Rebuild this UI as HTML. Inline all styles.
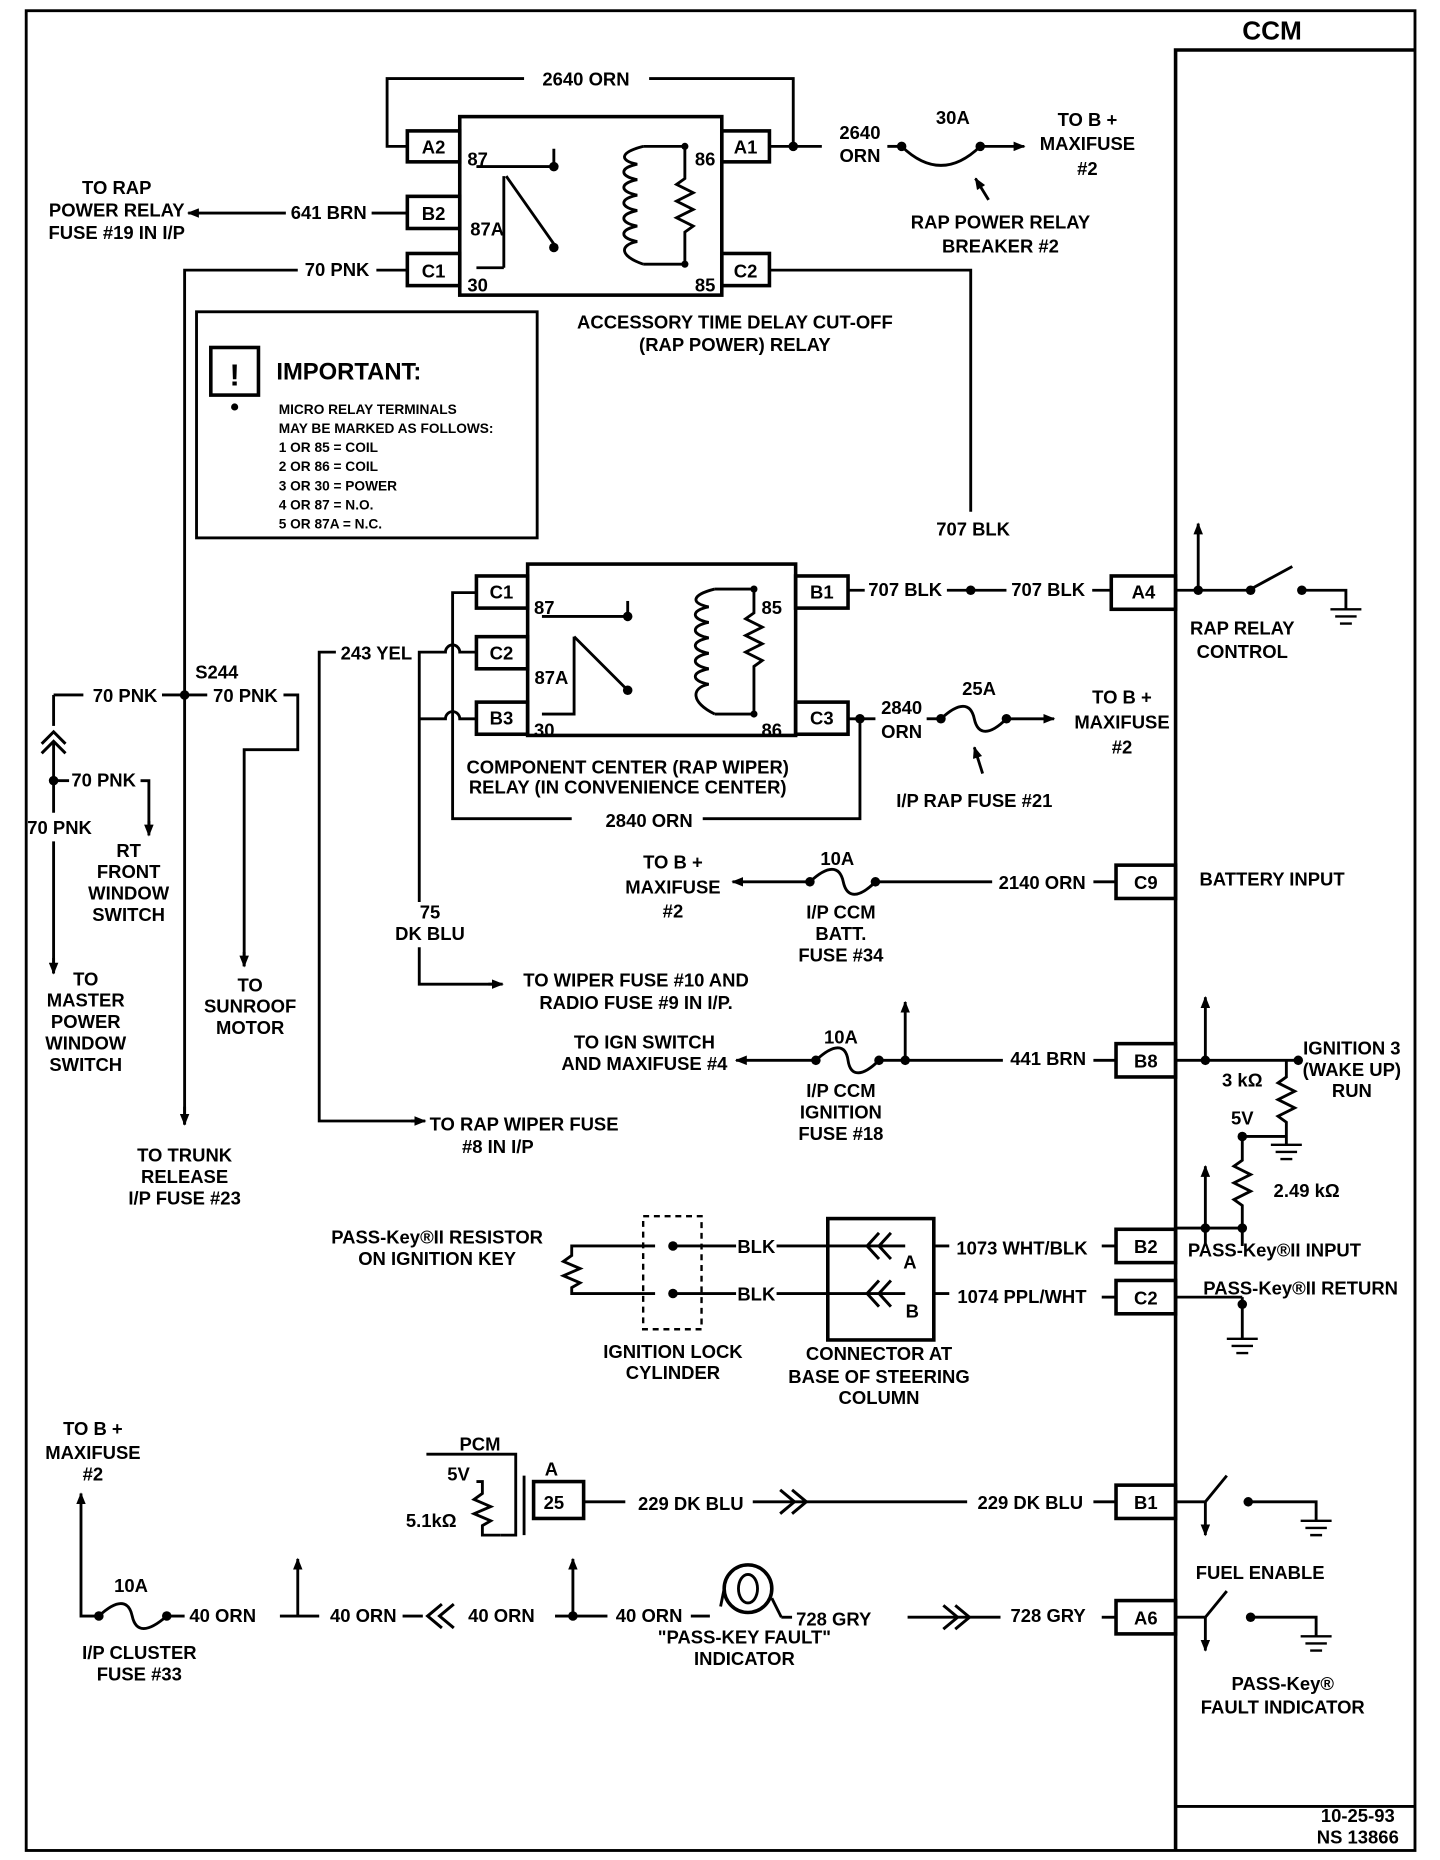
<!DOCTYPE html>
<html><head><meta charset="utf-8"><style>
html,body{margin:0;padding:0;background:#fff;}
svg{display:block;}
text{font-family:"Liberation Sans",sans-serif;font-weight:bold;font-size:15.5px;fill:#000;text-anchor:middle;}
.s{font-size:11.5px;text-anchor:start;}
.l{text-anchor:start;}
</style></head><body>
<svg width="1440" height="1860" viewBox="0 0 1209 1563" preserveAspectRatio="none" xmlns="http://www.w3.org/2000/svg">
<defs><marker id="a" markerWidth="10" markerHeight="8" refX="9" refY="4" orient="auto" markerUnits="userSpaceOnUse"><path d="M0,0L10,4L0,8z" fill="#000"/></marker></defs>
<g fill="none" stroke="#000" stroke-width="2.4">
<rect x="22" y="9" width="1166" height="1546"/>
<polyline points="987,1555 987,42 1188,42" stroke-width="3"/>
<line x1="987" y1="1518" x2="1188" y2="1518"/>
<rect x="386" y="98" width="220" height="150" stroke-width="3"/>
<rect x="342" y="110" width="44" height="26" stroke-width="3"/><rect x="342" y="165" width="44" height="27" stroke-width="3"/><rect x="342" y="213" width="44" height="27" stroke-width="3"/>
<rect x="606" y="110" width="40" height="26" stroke-width="3"/><rect x="606" y="213" width="40" height="27" stroke-width="3"/>
<polyline points="342,123 325,123 325,66 440,66"/><polyline points="545,66 666,66 666,123 646,123"/>
<line x1="666" y1="123" x2="690" y2="123"/>
<line x1="745" y1="123" x2="757" y2="123"/>
<path d="M757,123 Q790,155 823,123"/><line x1="823" y1="123" x2="860" y2="123" marker-end="url(#a)"/>
<line x1="830" y1="168" x2="819" y2="150" marker-end="url(#a)"/>
<line x1="342" y1="179" x2="312" y2="179"/><line x1="240" y1="179" x2="158" y2="179" marker-end="url(#a)"/>
<line x1="342" y1="227" x2="316" y2="227"/><polyline points="250,227 155,227 155,945" /><line x1="155" y1="930" x2="155" y2="945" marker-end="url(#a)"/>
<polyline points="646,227 815,227 815,430"/>
<line x1="400" y1="140" x2="465" y2="140"/><line x1="465" y1="140" x2="465" y2="125"/>
<line x1="425" y1="148" x2="465" y2="205"/><line x1="400" y1="225" x2="423" y2="225"/><line x1="423" y1="225" x2="423" y2="148"/>
<path d="M575,125 L575,150 L568,155 L582,162 L568,169 L582,176 L568,183 L582,190 L575,195 L575,220"/>
<path d="M540,123 L575,123 M540,222 L575,222"/>
<path d="M540,123 C520,128 520,135 535,138 C520,141 520,148 535,151 C520,154 520,161 535,164 C520,167 520,174 535,177 C520,180 520,187 535,190 C520,193 520,200 535,203 C520,206 520,215 540,222"/>
<rect x="165" y="262" width="286" height="190"/>
<rect x="177" y="292" width="40" height="40" stroke-width="3"/>
<rect x="443" y="474" width="225" height="144" stroke-width="3"/>
<rect x="400" y="484" width="43" height="27" stroke-width="3"/><rect x="400" y="535" width="43" height="27" stroke-width="3"/><rect x="400" y="590" width="43" height="27" stroke-width="3"/>
<rect x="668" y="484" width="44" height="27" stroke-width="3"/><rect x="668" y="590" width="44" height="27" stroke-width="3"/>
<line x1="455" y1="518" x2="527" y2="518"/><line x1="527" y1="518" x2="527" y2="505"/>
<line x1="482" y1="535" x2="527" y2="580"/><polyline points="455,600 482,600 482,535"/>
<path d="M633,495 L633,515 L626,520 L640,527 L626,534 L640,541 L626,548 L640,555 L633,560 L633,600"/>
<path d="M600,495 L633,495 M600,600 L633,600"/>
<path d="M600,495 C580,500 580,507 595,510 C580,513 580,520 595,523 C580,526 580,533 595,536 C580,539 580,546 595,549 C580,552 580,559 595,562 C580,565 580,572 595,575 C580,578 580,590 600,600"/>
<polyline points="400,498 380,498 380,688 480,688"/><polyline points="590,688 722,688 722,604 712,604"/>
<path d="M400,548 L386,548 A6,6 0 0 0 374,548 L352,548 L352,758"/>
<polyline points="352,796 352,827 420,827"/><line x1="410" y1="827" x2="422" y2="827" marker-end="url(#a)"/>
<path d="M400,604 L386,604 A6,6 0 0 0 374,604 L352,604"/>
<polyline points="282,548 268,548 268,942 355,942"/><line x1="345" y1="942" x2="357" y2="942" marker-end="url(#a)"/>
<line x1="722" y1="604" x2="735" y2="604"/><line x1="778" y1="604" x2="790" y2="604"/>
<path d="M790,604 C805,590 815,590 818,604 C821,618 831,618 845,604"/><line x1="845" y1="604" x2="885" y2="604" marker-end="url(#a)"/>
<line x1="825" y1="650" x2="818" y2="628" marker-end="url(#a)"/>
<line x1="712" y1="496" x2="726" y2="496"/><line x1="795" y1="496" x2="845" y2="496"/><line x1="917" y1="496" x2="933" y2="496"/>
<rect x="933" y="484" width="54" height="28" stroke-width="3"/>
<line x1="987" y1="496" x2="1050" y2="496"/><line x1="1006" y1="496" x2="1006" y2="440" marker-end="url(#a)"/>
<line x1="1052" y1="494" x2="1085" y2="476"/><polyline points="1093,496 1130,496 1130,512"/>
<rect x="937" y="727" width="50" height="28" stroke-width="3"/>
<line x1="937" y1="741" x2="918" y2="741"/><line x1="833" y1="741" x2="735" y2="741"/>
<path d="M680,741 C695,727 705,727 708,741 C711,755 721,755 735,741"/><line x1="680" y1="741" x2="615" y2="741" marker-end="url(#a)"/>
<rect x="937" y="877" width="50" height="28" stroke-width="3"/>
<line x1="937" y1="891" x2="918" y2="891"/><line x1="842" y1="891" x2="738" y2="891"/>
<line x1="760" y1="891" x2="760" y2="842" marker-end="url(#a)"/>
<path d="M685,891 C700,877 710,877 712,891 C714,905 724,905 738,891"/><line x1="685" y1="891" x2="618" y2="891" marker-end="url(#a)"/>
<line x1="987" y1="891" x2="1090" y2="891"/><line x1="1012" y1="891" x2="1012" y2="838" marker-end="url(#a)"/>
<path d="M1080,891 L1080,905 L1073,910 L1087,917 L1073,924 L1087,931 L1073,938 L1080,943 L1080,962"/>
<line x1="1043" y1="955" x2="1080" y2="955"/>
<path d="M1043,955 L1043,975 L1036,980 L1050,987 L1036,994 L1050,1001 L1036,1008 L1043,1013 L1043,1047"/>
<line x1="1012" y1="1047" x2="1012" y2="980" marker-end="url(#a)"/>
<rect x="937" y="1033" width="50" height="28" stroke-width="3"/><rect x="937" y="1076" width="50" height="28" stroke-width="3"/>
<line x1="987" y1="1032" x2="1043" y2="1032"/>
<line x1="987" y1="1090" x2="1043" y2="1090"/><line x1="1043" y1="1090" x2="1043" y2="1125"/>
<line x1="937" y1="1047" x2="925" y2="1047"/><line x1="937" y1="1090" x2="925" y2="1090"/>
<line x1="784" y1="1047" x2="797" y2="1047"/><line x1="784" y1="1087" x2="797" y2="1087"/>
<rect x="695" y="1024" width="89" height="102" stroke-width="3"/>
<path d="M738,1036 L728,1047 L738,1058 M748,1036 L738,1047 L748,1058 M738,1076 L728,1087 L738,1098 M748,1076 L738,1087 L748,1098" stroke-width="2.5"/>
<line x1="565" y1="1047" x2="618" y2="1047"/><line x1="652" y1="1047" x2="760" y2="1047"/>
<line x1="565" y1="1087" x2="618" y2="1087"/><line x1="652" y1="1087" x2="760" y2="1087"/>
<rect x="540" y="1022" width="49" height="95" stroke-dasharray="5,4" stroke-width="2"/>
<polyline points="550,1047 480,1047 480,1055 473,1060 487,1066 473,1072 487,1078 480,1082 480,1087 550,1087"/>
<polyline points="358,1222 433,1222 433,1290 420,1290"/>
<rect x="448" y="1245" width="42" height="31" stroke-width="3"/>
<polyline points="440,1240 440,1290"/>
<polyline points="400,1245 405,1245 405,1255 398,1260 412,1266 398,1272 412,1278 405,1282 405,1290 420,1290"/>
<line x1="490" y1="1262" x2="525" y2="1262"/><line x1="632" y1="1262" x2="812" y2="1262"/>
<path d="M655,1252 L667,1262 L655,1272 M665,1252 L677,1262 L665,1272" stroke-width="2.5"/>
<line x1="918" y1="1262" x2="937" y2="1262"/>
<rect x="937" y="1248" width="50" height="28" stroke-width="3"/>
<line x1="987" y1="1262" x2="1012" y2="1262"/><line x1="1012" y1="1262" x2="1030" y2="1240"/>
<line x1="1012" y1="1262" x2="1012" y2="1290" marker-end="url(#a)"/>
<polyline points="1048,1262 1105,1262 1105,1278"/>
<rect x="937" y="1345" width="50" height="28" stroke-width="3"/>
<line x1="987" y1="1359" x2="1012" y2="1359"/><line x1="1012" y1="1359" x2="1030" y2="1337"/>
<line x1="1012" y1="1359" x2="1012" y2="1387" marker-end="url(#a)"/>
<polyline points="1050,1359 1105,1359 1105,1375"/>
<line x1="937" y1="1359" x2="925" y2="1359"/><line x1="840" y1="1359" x2="762" y2="1359"/>
<path d="M792,1349 L804,1359 L792,1369 M802,1349 L814,1359 L802,1369" stroke-width="2.5"/>
<line x1="665" y1="1359" x2="656" y2="1359"/><line x1="648" y1="1343" x2="656" y2="1359"/>
<circle cx="628" cy="1335" r="20" stroke-width="3"/><ellipse cx="628" cy="1335" rx="8" ry="12"/>
<line x1="608" y1="1335" x2="605" y2="1350"/>
<line x1="580" y1="1358" x2="596" y2="1358"/>
<line x1="466" y1="1358" x2="510" y2="1358"/><line x1="481" y1="1358" x2="481" y2="1310" marker-end="url(#a)"/>
<path d="M381,1348 L369,1358 L381,1368 M371,1348 L359,1358 L371,1368" stroke-width="2.5"/>
<line x1="338" y1="1358" x2="355" y2="1358"/><line x1="235" y1="1358" x2="268" y2="1358"/>
<line x1="250" y1="1358" x2="250" y2="1310" marker-end="url(#a)"/>
<line x1="140" y1="1358" x2="155" y2="1358"/>
<path d="M83,1358 C98,1344 108,1344 111,1358 C114,1372 124,1372 140,1358"/>
<polyline points="83,1358 68,1358 68,1255" marker-end="url(#a)"/>
<line x1="45" y1="584" x2="70" y2="584"/><line x1="136" y1="584" x2="174" y2="584"/><polyline points="238,584 250,584 250,630 205,630 205,812" /><line x1="205" y1="800" x2="205" y2="812" marker-end="url(#a)"/>
<line x1="45" y1="584" x2="45" y2="610"/>
<path d="M35,625 L45,615 L55,625 M35,633 L45,623 L55,633" stroke-width="2.5"/>
<line x1="45" y1="624" x2="45" y2="683"/><line x1="45" y1="707" x2="45" y2="818"/><line x1="45" y1="805" x2="45" y2="818" marker-end="url(#a)"/>
<polyline points="118,656 125,656 125,700"/><line x1="125" y1="690" x2="125" y2="702" marker-end="url(#a)"/>
<line x1="45" y1="656" x2="58" y2="656"/>
</g>
<g stroke="#000" stroke-width="2">
<path d="M1117,512H1143M1121,518H1139M1125,524H1135"/>
<path d="M1067,962H1093M1071,968H1089M1075,974H1085"/>
<path d="M1030,1125H1056M1034,1131H1052M1038,1137H1048"/>
<path d="M1092,1278H1118M1096,1284H1114M1100,1290H1110"/>
<path d="M1092,1375H1118M1096,1381H1114M1100,1387H1110"/>
</g>
<g fill="#000">
<circle cx="465" cy="140" r="4"/><circle cx="465" cy="208" r="4"/><circle cx="575" cy="123" r="3"/><circle cx="575" cy="222" r="3"/>
<circle cx="666" cy="123" r="4"/><circle cx="757" cy="123" r="4"/><circle cx="823" cy="123" r="4"/>
<circle cx="527" cy="518" r="4"/><circle cx="527" cy="580" r="4"/><circle cx="633" cy="495" r="3"/><circle cx="633" cy="600" r="3"/>
<circle cx="155" cy="584" r="4"/><circle cx="45" cy="656" r="4"/><circle cx="722" cy="604" r="4"/><circle cx="790" cy="604" r="4"/><circle cx="845" cy="604" r="4"/>
<circle cx="815" cy="496" r="4"/><circle cx="1006" cy="496" r="4"/><circle cx="1050" cy="496" r="4"/><circle cx="1093" cy="496" r="4"/>
<circle cx="680" cy="741" r="4"/><circle cx="735" cy="741" r="4"/><circle cx="685" cy="891" r="4"/><circle cx="738" cy="891" r="4"/><circle cx="760" cy="891" r="4"/>
<circle cx="1012" cy="891" r="4"/><circle cx="1090" cy="891" r="4"/><circle cx="1043" cy="955" r="4"/><circle cx="1043" cy="1032" r="4"/><circle cx="1012" cy="1032" r="4"/><circle cx="1043" cy="1096" r="4"/>
<circle cx="565" cy="1047" r="4"/><circle cx="565" cy="1087" r="4"/>
<circle cx="1048" cy="1262" r="4"/><circle cx="1050" cy="1359" r="4"/><circle cx="481" cy="1358" r="4"/><circle cx="83" cy="1358" r="4"/><circle cx="140" cy="1358" r="4"/>
<circle cx="197" cy="342" r="3"/>
</g>
<text x="1068" y="33" style="font-size:22px">CCM</text>
<text x="492" y="72">2640 ORN</text>
<text x="364" y="129">A2</text><text x="364" y="185">B2</text><text x="364" y="233">C1</text>
<text x="626" y="129">A1</text><text x="626" y="233">C2</text>
<text x="401" y="139">87</text><text x="409" y="198">87A</text><text x="401" y="245">30</text><text x="592" y="139">86</text><text x="592" y="245">85</text>
<text x="722" y="117">2640</text><text x="722" y="136">ORN</text>
<text x="800" y="104">30A</text>
<text x="913" y="106">TO B +</text><text x="913" y="126">MAXIFUSE</text><text x="913" y="147">#2</text>
<text x="840" y="192">RAP POWER RELAY</text><text x="840" y="212">BREAKER #2</text>
<text x="98" y="163">TO RAP</text><text x="98" y="182">POWER RELAY</text><text x="98" y="201">FUSE #19 IN I/P</text>
<text x="276" y="184">641 BRN</text><text x="283" y="232">70 PNK</text>
<text x="617" y="276">ACCESSORY TIME DELAY CUT-OFF</text><text x="617" y="295">(RAP POWER) RELAY</text>
<text x="817" y="450">707 BLK</text>
<text x="197" y="324" style="font-size:26px">!</text>
<text class="l" x="232" y="319" style="font-size:20px">IMPORTANT:</text>
<text class="s" x="234" y="348">MICRO RELAY TERMINALS</text><text class="s" x="234" y="364">MAY BE MARKED AS FOLLOWS:</text>
<text class="s" x="234" y="380">1 OR 85 = COIL</text><text class="s" x="234" y="396">2 OR 86 = COIL</text><text class="s" x="234" y="412">3 OR 30 = POWER</text><text class="s" x="234" y="428">4 OR 87 = N.O.</text><text class="s" x="234" y="444">5 OR 87A = N.C.</text>
<text x="421" y="503">C1</text><text x="421" y="554">C2</text><text x="421" y="609">B3</text><text x="690" y="503">B1</text><text x="690" y="609">C3</text>
<text x="457" y="516">87</text><text x="463" y="575">87A</text><text x="457" y="619">30</text><text x="648" y="516">85</text><text x="648" y="619">86</text>
<text x="760" y="501">707 BLK</text><text x="880" y="501">707 BLK</text><text x="960" y="503">A4</text>
<text x="1043" y="533">RAP RELAY</text><text x="1043" y="553">CONTROL</text>
<text x="316" y="554">243 YEL</text><text x="182" y="570">S244</text>
<text x="105" y="590">70 PNK</text><text x="206" y="590">70 PNK</text>
<text x="527" y="650">COMPONENT CENTER (RAP WIPER)</text><text x="527" y="667">RELAY (IN CONVENIENCE CENTER)</text>
<text x="545" y="695">2840 ORN</text>
<text x="757" y="600">2840</text><text x="757" y="620">ORN</text><text x="822" y="584">25A</text>
<text x="942" y="591">TO B +</text><text x="942" y="612">MAXIFUSE</text><text x="942" y="633">#2</text>
<text x="818" y="678">I/P RAP FUSE #21</text>
<text x="87" y="661">70 PNK</text><text x="50" y="701">70 PNK</text>
<text x="108" y="720">RT</text><text x="108" y="738">FRONT</text><text x="108" y="756">WINDOW</text><text x="108" y="774">SWITCH</text>
<text x="703" y="727">10A</text><text x="565" y="730">TO B +</text><text x="565" y="751">MAXIFUSE</text><text x="565" y="771">#2</text>
<text x="875" y="747">2140 ORN</text><text x="962" y="747">C9</text><text x="1068" y="744">BATTERY INPUT</text>
<text x="706" y="772">I/P CCM</text><text x="706" y="790">BATT.</text><text x="706" y="808">FUSE #34</text>
<text x="361" y="772">75</text><text x="361" y="790">DK BLU</text>
<text x="534" y="829">TO WIPER FUSE #10 AND</text><text x="534" y="848">RADIO FUSE #9 IN I/P.</text>
<text x="72" y="828">TO</text><text x="72" y="846">MASTER</text><text x="72" y="864">POWER</text><text x="72" y="882">WINDOW</text><text x="72" y="900">SWITCH</text>
<text x="210" y="833">TO</text><text x="210" y="851">SUNROOF</text><text x="210" y="869">MOTOR</text>
<text x="541" y="881">TO IGN SWITCH</text><text x="541" y="899">AND MAXIFUSE #4</text><text x="706" y="877">10A</text>
<text x="880" y="895">441 BRN</text><text x="962" y="897">B8</text>
<text x="706" y="922">I/P CCM</text><text x="706" y="940">IGNITION</text><text x="706" y="958">FUSE #18</text>
<text x="1135" y="886">IGNITION 3</text><text x="1135" y="904">(WAKE UP)</text><text x="1135" y="922">RUN</text>
<text x="1043" y="913">3 kΩ</text><text x="1043" y="945">5V</text><text x="1097" y="1006">2.49 kΩ</text>
<text x="440" y="950">TO RAP WIPER FUSE</text><text x="418" y="969">#8 IN I/P</text>
<text x="155" y="976">TO TRUNK</text><text x="155" y="994">RELEASE</text><text x="155" y="1012">I/P FUSE #23</text>
<text x="367" y="1045">PASS-Key®II RESISTOR</text><text x="367" y="1063">ON IGNITION KEY</text>
<text x="635" y="1053">BLK</text><text x="635" y="1093">BLK</text><text x="764" y="1066">A</text><text x="766" y="1107">B</text>
<text x="858" y="1054">1073 WHT/BLK</text><text x="858" y="1095">1074 PPL/WHT</text>
<text x="962" y="1053">B2</text><text x="962" y="1096">C2</text>
<text x="1070" y="1056">PASS-Key®II INPUT</text><text x="1092" y="1088">PASS-Key®II RETURN</text>
<text x="565" y="1141">IGNITION LOCK</text><text x="565" y="1159">CYLINDER</text>
<text x="738" y="1143">CONNECTOR AT</text><text x="738" y="1162">BASE OF STEERING</text><text x="738" y="1180">COLUMN</text>
<text x="78" y="1206">TO B +</text><text x="78" y="1226">MAXIFUSE</text><text x="78" y="1244">#2</text>
<text x="403" y="1219">PCM</text><text x="463" y="1240">A</text><text x="385" y="1244">5V</text><text x="465" y="1268">25</text><text x="362" y="1283">5.1kΩ</text>
<text x="580" y="1269">229 DK BLU</text><text x="865" y="1268">229 DK BLU</text><text x="962" y="1268">B1</text>
<text x="1058" y="1327">FUEL ENABLE</text>
<text x="110" y="1338">10A</text><text x="187" y="1363">40 ORN</text><text x="305" y="1363">40 ORN</text><text x="421" y="1363">40 ORN</text><text x="545" y="1363">40 ORN</text>
<text x="700" y="1366">728 GRY</text><text x="880" y="1363">728 GRY</text><text x="962" y="1365">A6</text>
<text x="117" y="1394">I/P CLUSTER</text><text x="117" y="1412">FUSE #33</text>
<text x="625" y="1381">"PASS-KEY FAULT"</text><text x="625" y="1399">INDICATOR</text>
<text x="1077" y="1420">PASS-Key®</text><text x="1077" y="1440">FAULT INDICATOR</text>
<text x="1140" y="1531">10-25-93</text><text x="1140" y="1549">NS 13866</text>
</svg>
</body></html>
